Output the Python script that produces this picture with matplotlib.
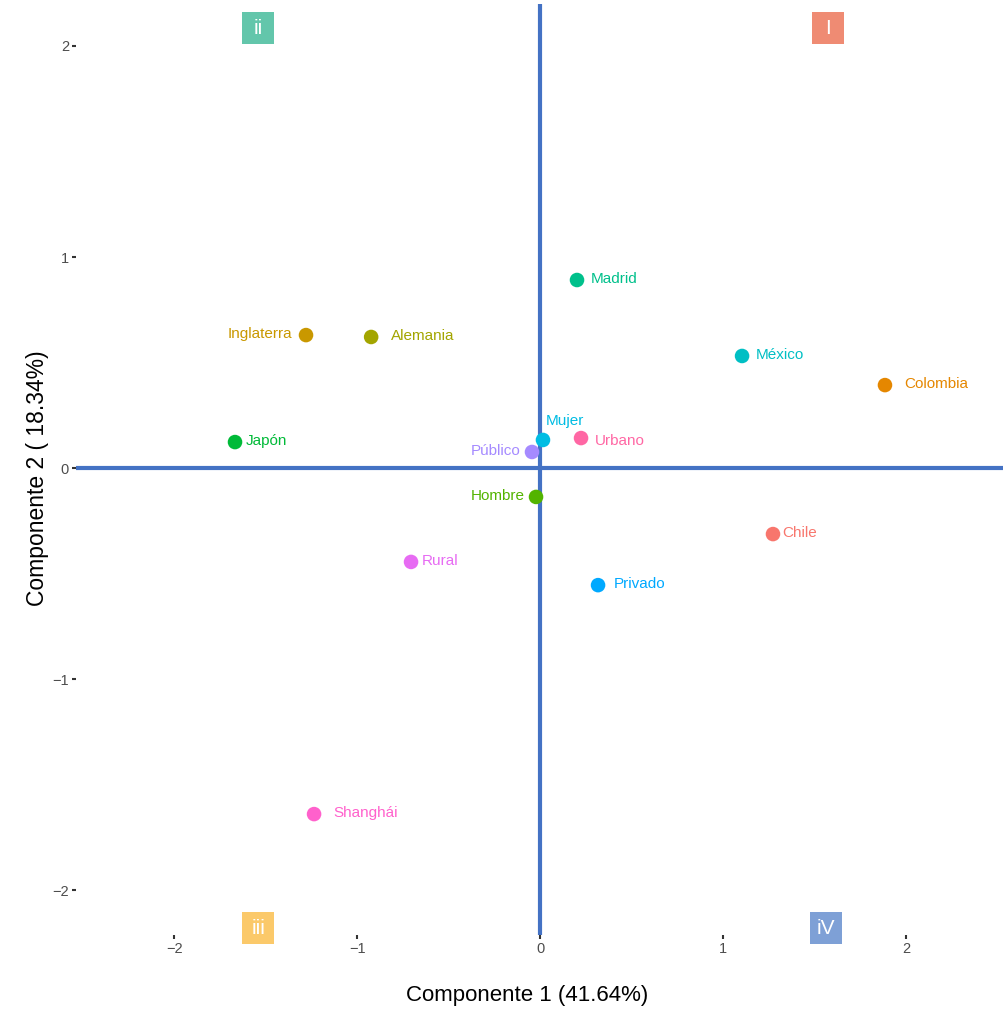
import numpy as np
import matplotlib
matplotlib.use("Agg")
import matplotlib.pyplot as plt

plt.rcParams['font.family'] = ['Liberation Sans', 'DejaVu Sans']

# coordenadas de las categorias (componente 1, componente 2)
labels = ['Madrid', 'Inglaterra', 'Alemania', 'México', 'Colombia', 'Japón',
          'Mujer', 'Urbano', 'Público', 'Hombre', 'Chile', 'Rural',
          'Privado', 'Shanghái']
comp1 = [0.202, -1.279, -0.923, 1.104, 1.885, -1.667,
         0.016, 0.224, -0.044, -0.022, 1.273, -0.705,
         0.317, -1.235]
comp2 = [0.891, 0.630, 0.621, 0.531, 0.393, 0.123,
         0.133, 0.142, 0.076, -0.137, -0.313, -0.445,
         -0.555, -1.640]
colors = ['#00C08B', '#C99800', '#A3A500', '#00BFC4', '#E58700', '#00BA38',
          '#00BCE3', '#FF67A4', '#A58AFF', '#53B400', '#F8766D', '#E76BF3',
          '#00A9FF', '#FF61CC']

# desplazamiento de etiquetas (pt) y alineacion
offsets = [(10, 1), (-10, 1), (14, 1), (10, 1), (14, 1), (8, 1),
           (2, 14), (10, -2), (-8, 1), (-8, 1), (7, 1), (8, 1),
           (11, 1), (14, 1)]
haligns = ['left', 'right', 'left', 'left', 'left', 'left',
           'left', 'left', 'right', 'right', 'left', 'left',
           'left', 'left']

quad_text = ['I', 'ii', 'iii', 'iV']
quad_x = [1.574, -1.541, -1.541, 1.563]
quad_y = [2.085, 2.085, -2.18, -2.18]
quad_col = ['#EF8B73', '#63C6AB', '#FBC96A', '#7EA0D6']

fig = plt.figure(figsize=(10.06, 10.10), dpi=100)
ax = fig.add_axes([76/1006, 1 - 935/1010, (1003-76)/1006, (935-4)/1010])

ax.axhline(0, color='#4472C4', lw=3, zorder=1)
ax.axvline(0, color='#4472C4', lw=3, zorder=1)

ax.scatter(comp1, comp2, s=110, c=colors, zorder=3, linewidths=0)
for i in range(len(labels)):
    ax.annotate(labels[i], (comp1[i], comp2[i]), xytext=offsets[i],
                textcoords='offset points', ha=haligns[i], va='center',
                color=colors[i], fontsize=11, zorder=4)

# recuadros de los cuadrantes
for t, qx, qy, qc in zip(quad_text, quad_x, quad_y, quad_col):
    ax.plot(qx, qy, marker='s', markersize=23, color=qc, mew=0, zorder=2,
            clip_on=False)
    ax.text(qx, qy, t, ha='center', va='center', color='white', fontsize=15,
            zorder=3)

ax.set_xlim(-2.536, 2.530)
ax.set_ylim(-2.213, 2.199)
ax.set_xticks([-2, -1, 0, 1, 2])
ax.set_yticks([-2, -1, 0, 1, 2])
ax.set_xticklabels(['\u22122', '\u22121', '0', '1', '2'])
ax.set_yticklabels(['\u22122', '\u22121', '0', '1', '2'])
for s in ax.spines.values():
    s.set_visible(False)
ax.tick_params(length=3, width=1.5, color='#333333', labelcolor='#4D4D4D',
               labelsize=10.5, pad=2)

ax.set_xlabel('Componente 1 (41.64%)', fontsize=16, va='center')
ax.set_ylabel('Componente 2 ( 18.34%)', fontsize=16.5, va='center')
ax.xaxis.set_label_coords(0.4865, -0.0655)
ax.yaxis.set_label_coords(-0.042, 0.491)

fig.savefig('out.png', dpi=100)
